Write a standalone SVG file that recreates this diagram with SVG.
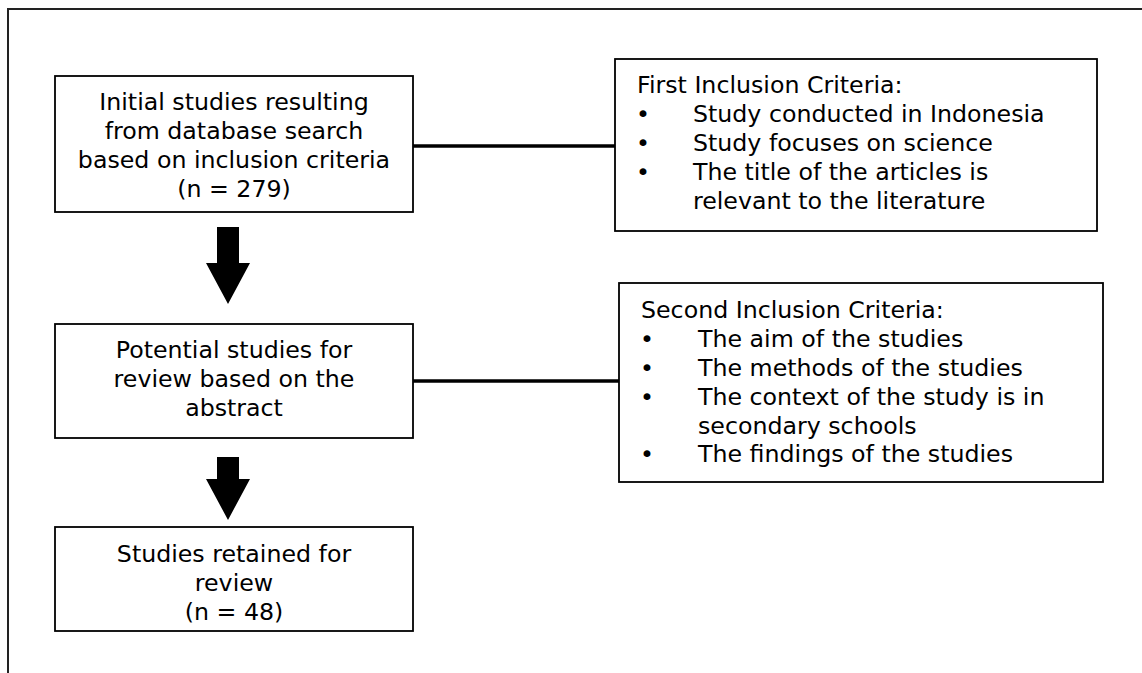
<svg xmlns="http://www.w3.org/2000/svg" width="1142" height="673" viewBox="0 0 1142 673">
<style>
.box{fill:#fff;stroke:#000;stroke-width:1.8}
.t{font-family:"DejaVu Sans",Verdana,sans-serif;font-size:23.7px;fill:#000}
.c{text-anchor:middle}
.conn{stroke:#000;stroke-width:3.5;fill:none}
.arr{fill:#000;stroke:none}
.frame{stroke:#222;stroke-width:2;fill:none}
</style>
<defs>
<clipPath id="clip3"><rect x="55" y="527" width="358" height="96"/></clipPath>
</defs>
<path class="frame" d="M1142 9 H8 V673"/>
<g id="connectors">
<line class="conn" x1="413" y1="146" x2="615" y2="146"/>
<line class="conn" x1="413" y1="381" x2="619" y2="381"/>
<polygon class="arr" points="217,227 239,227 239,263 250,263 228,304 206,263 217,263"/>
<polygon class="arr" points="217,457 239,457 239,479 250,479 228,520 206,479 217,479"/>
</g>
<g id="node-initial">
<rect class="box" x="55" y="76" width="358" height="136"/>
<text class="t c" x="234" y="110">Initial studies resulting</text>
<text class="t c" x="234" y="139">from database search</text>
<text class="t c" x="234" y="168">based on inclusion criteria</text>
<text class="t c" x="234" y="197">(n = 279)</text>
</g>
<g id="node-first-criteria">
<rect class="box" x="615" y="59" width="482" height="172"/>
<text class="t" x="637" y="93">First Inclusion Criteria:</text>
<text class="t" x="636" y="122">•</text>
<text class="t" x="693" y="122">Study conducted in Indonesia</text>
<text class="t" x="636" y="151">•</text>
<text class="t" x="693" y="151">Study focuses on science</text>
<text class="t" x="636" y="180">•</text>
<text class="t" x="693" y="180">The title of the articles is</text>
<text class="t" x="693" y="209">relevant to the literature</text>
</g>
<g id="node-potential">
<rect class="box" x="55" y="324" width="358" height="114"/>
<text class="t c" x="234" y="358">Potential studies for</text>
<text class="t c" x="234" y="387">review based on the</text>
<text class="t c" x="234" y="416">abstract</text>
</g>
<g id="node-second-criteria">
<rect class="box" x="619" y="283" width="484" height="199"/>
<text class="t" x="641" y="318">Second Inclusion Criteria:</text>
<text class="t" x="640" y="347">•</text>
<text class="t" x="698" y="347">The aim of the studies</text>
<text class="t" x="640" y="376">•</text>
<text class="t" x="698" y="376">The methods of the studies</text>
<text class="t" x="640" y="405">•</text>
<text class="t" x="698" y="405">The context of the study is in</text>
<text class="t" x="698" y="434">secondary schools</text>
<text class="t" x="640" y="462">•</text>
<text class="t" x="698" y="462">The findings of the studies</text>
</g>
<g id="node-retained">
<rect class="box" x="55" y="527" width="358" height="104"/>
<g clip-path="url(#clip3)">
<text class="t c" x="234" y="562">Studies retained for</text>
<text class="t c" x="234" y="591">review</text>
<text class="t c" x="234" y="620">(n = 48)</text>
</g>
</g>
</svg>
